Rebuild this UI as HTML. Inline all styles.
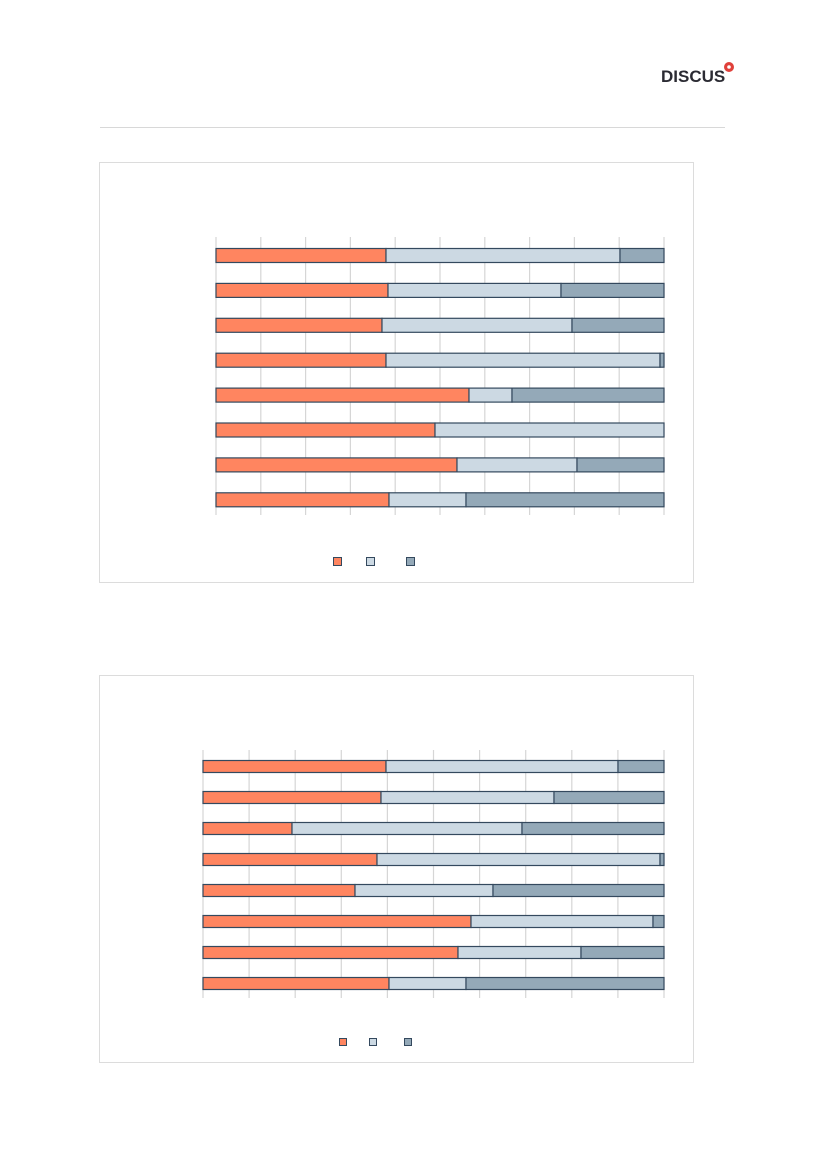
<!DOCTYPE html>
<html><head><meta charset="utf-8"><style>
body{margin:0;background:#fff;}
svg{display:block}
</style></head><body>
<svg width="827" height="1169" viewBox="0 0 827 1169" xmlns="http://www.w3.org/2000/svg">
<rect width="827" height="1169" fill="#fff"/>
<text x="661" y="82" font-family="Liberation Sans, sans-serif" font-weight="bold" font-size="17" fill="#2b2b33">DISCUS</text>
<circle cx="729" cy="67" r="5" fill="#e0403a"/><circle cx="729" cy="67" r="1.8" fill="#fff"/>
<line x1="100" y1="127.5" x2="725" y2="127.5" stroke="#d8d8d8"/>
<rect x="99.5" y="162.5" width="594" height="420" fill="none" stroke="#dcdcdc"/>
<rect x="99.5" y="675.5" width="594" height="387" fill="none" stroke="#dcdcdc"/>
<g id="c1" stroke="#d6d6d6" stroke-width="1.2"></g>
<g id="c2" stroke="#d6d6d6" stroke-width="1.2"></g>
<g id="b" stroke="#34495e" stroke-width="1.2"></g>
<g stroke="#34495e" stroke-width="1">
<rect x="333.5" y="557.5" width="8" height="8" fill="#FF8560"/>
<rect x="366.5" y="557.5" width="8" height="8" fill="#CCD9E3"/>
<rect x="406.5" y="557.5" width="8" height="8" fill="#94A9B8"/>
<rect x="339.5" y="1038.5" width="7" height="7" fill="#FF8560"/>
<rect x="369.5" y="1038.5" width="7" height="7" fill="#CCD9E3"/>
<rect x="404.5" y="1038.5" width="7" height="7" fill="#94A9B8"/>
</g>
</svg>
<script>
const NS="http://www.w3.org/2000/svg";
function el(g,t,a){const e=document.createElementNS(NS,t);for(const k in a)e.setAttribute(k,a[k]);g.appendChild(e);}
const c1=document.getElementById('c1'),c2=document.getElementById('c2'),b=document.getElementById('b');
for(let i=0;i<=10;i++){let x=216+i*44.8;el(c1,'line',{x1:x,x2:x,y1:237,y2:515});x=203+i*46.1;el(c2,'line',{x1:x,x2:x,y1:750,y2:998});}
const d1=[[386,620],[388,561],[382,572],[386,660],[469,512],[435,664],[457,577],[389,466]];
const d2=[[386,618],[381,554],[292,522],[377,660],[355,493],[471,653],[458,581],[389,466]];
function bars(d,x0,x1,y0,step,h){d.forEach((r,i)=>{const y=y0+i*step;
el(b,'rect',{x:x0,y:y,width:r[0]-x0,height:h,fill:'#FF8560'});
el(b,'rect',{x:r[0],y:y,width:r[1]-r[0],height:h,fill:'#CCD9E3'});
if(r[1]<x1)el(b,'rect',{x:r[1],y:y,width:x1-r[1],height:h,fill:'#94A9B8'});});}
bars(d1,216,664,248.5,34.9,14);
bars(d2,203,664,760.5,31,12);
</script>
</body></html>
